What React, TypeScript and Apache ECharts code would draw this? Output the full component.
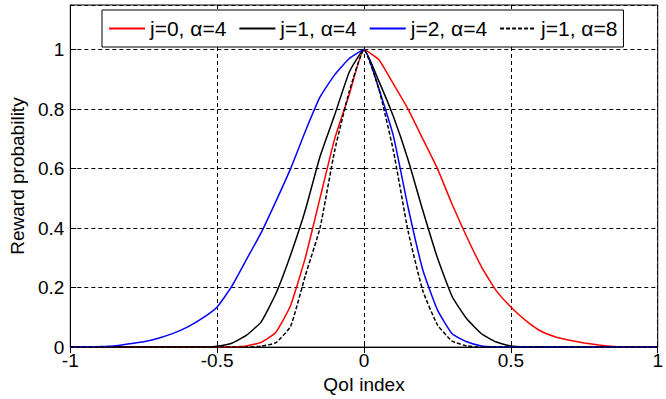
import React, { useEffect, useRef } from "react";
import * as echarts from "echarts";

const X = [
  -1, -0.95, -0.9, -0.85, -0.8, -0.75, -0.7, -0.65, -0.6, -0.55, -0.5, -0.45, -0.4, -0.35, -0.3, -0.25, -0.2, -0.15, -0.1, -0.05,
  0, 0.05, 0.1, 0.15, 0.2, 0.25, 0.3, 0.35, 0.4, 0.45, 0.5, 0.55, 0.6, 0.65, 0.7, 0.75, 0.8, 0.85, 0.9, 0.95, 1,
];

const redJ0A4 = [
  0, 0, 0, 0, 0, 0, 0, 0, 0, 0, 0, 0.001, 0.004, 0.016, 0.05, 0.14, 0.3, 0.5, 0.7, 0.85,
  1, 0.967, 0.885, 0.8, 0.7, 0.6, 0.48, 0.37, 0.27, 0.19, 0.135, 0.09, 0.055, 0.035, 0.023, 0.014, 0.007, 0.002, 0, 0, 0,
];

const blackJ1A4 = [
  0, 0, 0, 0, 0, 0, 0, 0, 0, 0, 0.003, 0.013, 0.04, 0.085, 0.18, 0.31, 0.46, 0.64, 0.78, 0.925,
  1, 0.895, 0.775, 0.63, 0.46, 0.3, 0.17, 0.095, 0.045, 0.017, 0.004, 0.001, 0, 0, 0, 0, 0, 0, 0, 0, 0,
];

const blueJ2A4 = [
  0, 0.001, 0.002, 0.004, 0.011, 0.018, 0.03, 0.046, 0.068, 0.097, 0.135, 0.205, 0.295, 0.385, 0.49, 0.6, 0.725, 0.84, 0.915, 0.97,
  1, 0.87, 0.71, 0.47, 0.26, 0.125, 0.045, 0.018, 0.004, 0.001, 0, 0, 0, 0, 0, 0, 0, 0, 0, 0, 0,
];

const dashJ1A8 = [
  0, 0, 0, 0, 0, 0, 0, 0, 0, 0, 0, 0, 0, 0.003, 0.015, 0.07, 0.24, 0.4, 0.66, 0.86,
  1, 0.87, 0.66, 0.39, 0.19, 0.075, 0.02, 0.004, 0, 0, 0, 0, 0, 0, 0, 0, 0, 0, 0, 0, 0,
];

const seriesNames = ["j=0, \u03b1=4", "j=1, \u03b1=4", "j=2, \u03b1=4", "j=1, \u03b1=8"];
const xTicks = [-1, -0.5, 0, 0.5, 1];
const yTicks = [0, 0.2, 0.4, 0.6, 0.8, 1];

const FONT = "'Liberation Sans', Arial, sans-serif";

function pairs(ys: number[]) {
  return X.map((x, i) => [x, ys[i]]);
}

export default function App() {
  const ref = useRef<HTMLDivElement>(null);
  useEffect(() => {
    if (!ref.current) return;
    const chart = echarts.init(ref.current, null, { renderer: "svg", width: 666, height: 399 });
    const grid = { color: "#000", type: [4, 3] as any, width: 1 };
    const mk = (name: string, ys: number[], color: string, dashed = false) => ({
      name,
      type: "line",
      data: pairs(ys),
      showSymbol: false,
      symbol: "none",
      smooth: 0.15,
      z: 3,
      lineStyle: { color, width: 1.5, type: dashed ? [4, 2] : "solid" },
      itemStyle: { color },
    });
    chart.setOption({
      animation: false,
      backgroundColor: "#fff",
      textStyle: { fontFamily: FONT },
      grid: {
        left: 68,
        top: 5,
        width: 597,
        height: 345,
        show: true,
        borderColor: "#000",
        borderWidth: 1,
        backgroundColor: "transparent",
      },
      legend: {
        show: true,
        left: 102,
        top: 10,
        orient: "horizontal",
        itemWidth: 36,
        itemHeight: 14,
        itemGap: 12,
        padding: [8, 6, 8, 6],
        borderColor: "#000",
        borderWidth: 1,
        backgroundColor: "#fff",
        itemStyle: { opacity: 0 },
        textStyle: { fontFamily: FONT, fontSize: 21, color: "#000" },
        data: seriesNames,
      },
      xAxis: [
        {
          type: "value",
          min: -1,
          max: 1,
          interval: 0.5,
          name: "QoI index",
          nameLocation: "middle",
          nameGap: 22,
          nameTextStyle: { fontFamily: FONT, fontSize: 19, color: "#000" },
          axisLine: { show: true, onZero: false, lineStyle: { color: "#000", width: 1 } },
          axisTick: { show: true, inside: true, length: 6, lineStyle: { color: "#000" } },
          axisLabel: {
            fontFamily: FONT,
            fontSize: 19,
            color: "#000",
            margin: 4,
            formatter: (v: number) => (xTicks.includes(v) ? String(v) : ""),
          },
          splitLine: { show: true, lineStyle: grid },
        },
        {
          type: "value",
          position: "top",
          min: -1,
          max: 1,
          interval: 0.5,
          axisLine: { show: false },
          axisTick: { show: true, inside: true, length: 6, lineStyle: { color: "#000" } },
          axisLabel: { show: false },
          splitLine: { show: false },
        },
      ],
      yAxis: [
        {
          type: "value",
          min: 0,
          max: 1.15,
          interval: 0.2,
          name: "Reward probability",
          nameLocation: "middle",
          nameGap: 42,
          nameTextStyle: { fontFamily: FONT, fontSize: 19, color: "#000" },
          axisLine: { show: true, onZero: false, lineStyle: { color: "#000", width: 1 } },
          axisTick: { show: true, inside: true, length: 6, lineStyle: { color: "#000" } },
          axisLabel: {
            fontFamily: FONT,
            fontSize: 19,
            color: "#000",
            margin: 6,
            showMaxLabel: false,
            formatter: (v: number) => {
              const m = yTicks.find((t) => Math.abs(t - v) < 1e-9);
              return m === undefined ? "" : String(m);
            },
          },
          splitLine: { show: true, lineStyle: grid },
        },
        {
          type: "value",
          position: "right",
          min: 0,
          max: 1.15,
          interval: 0.2,
          axisLine: { show: false },
          axisTick: { show: true, inside: true, length: 6, lineStyle: { color: "#000" } },
          axisLabel: { show: false },
          splitLine: { show: false },
        },
      ],
      series: [
        mk(seriesNames[0], redJ0A4, "#ff0000"),
        mk(seriesNames[1], blackJ1A4, "#000000"),
        mk(seriesNames[2], blueJ2A4, "#0000ff"),
        mk(seriesNames[3], dashJ1A8, "#000000", true),
      ],
    });
    return () => chart.dispose();
  }, []);
  return (
    <div
      ref={ref}
      style={{ position: "fixed", left: 0, top: 0, width: 666, height: 399, background: "#fff" }}
    />
  );
}
